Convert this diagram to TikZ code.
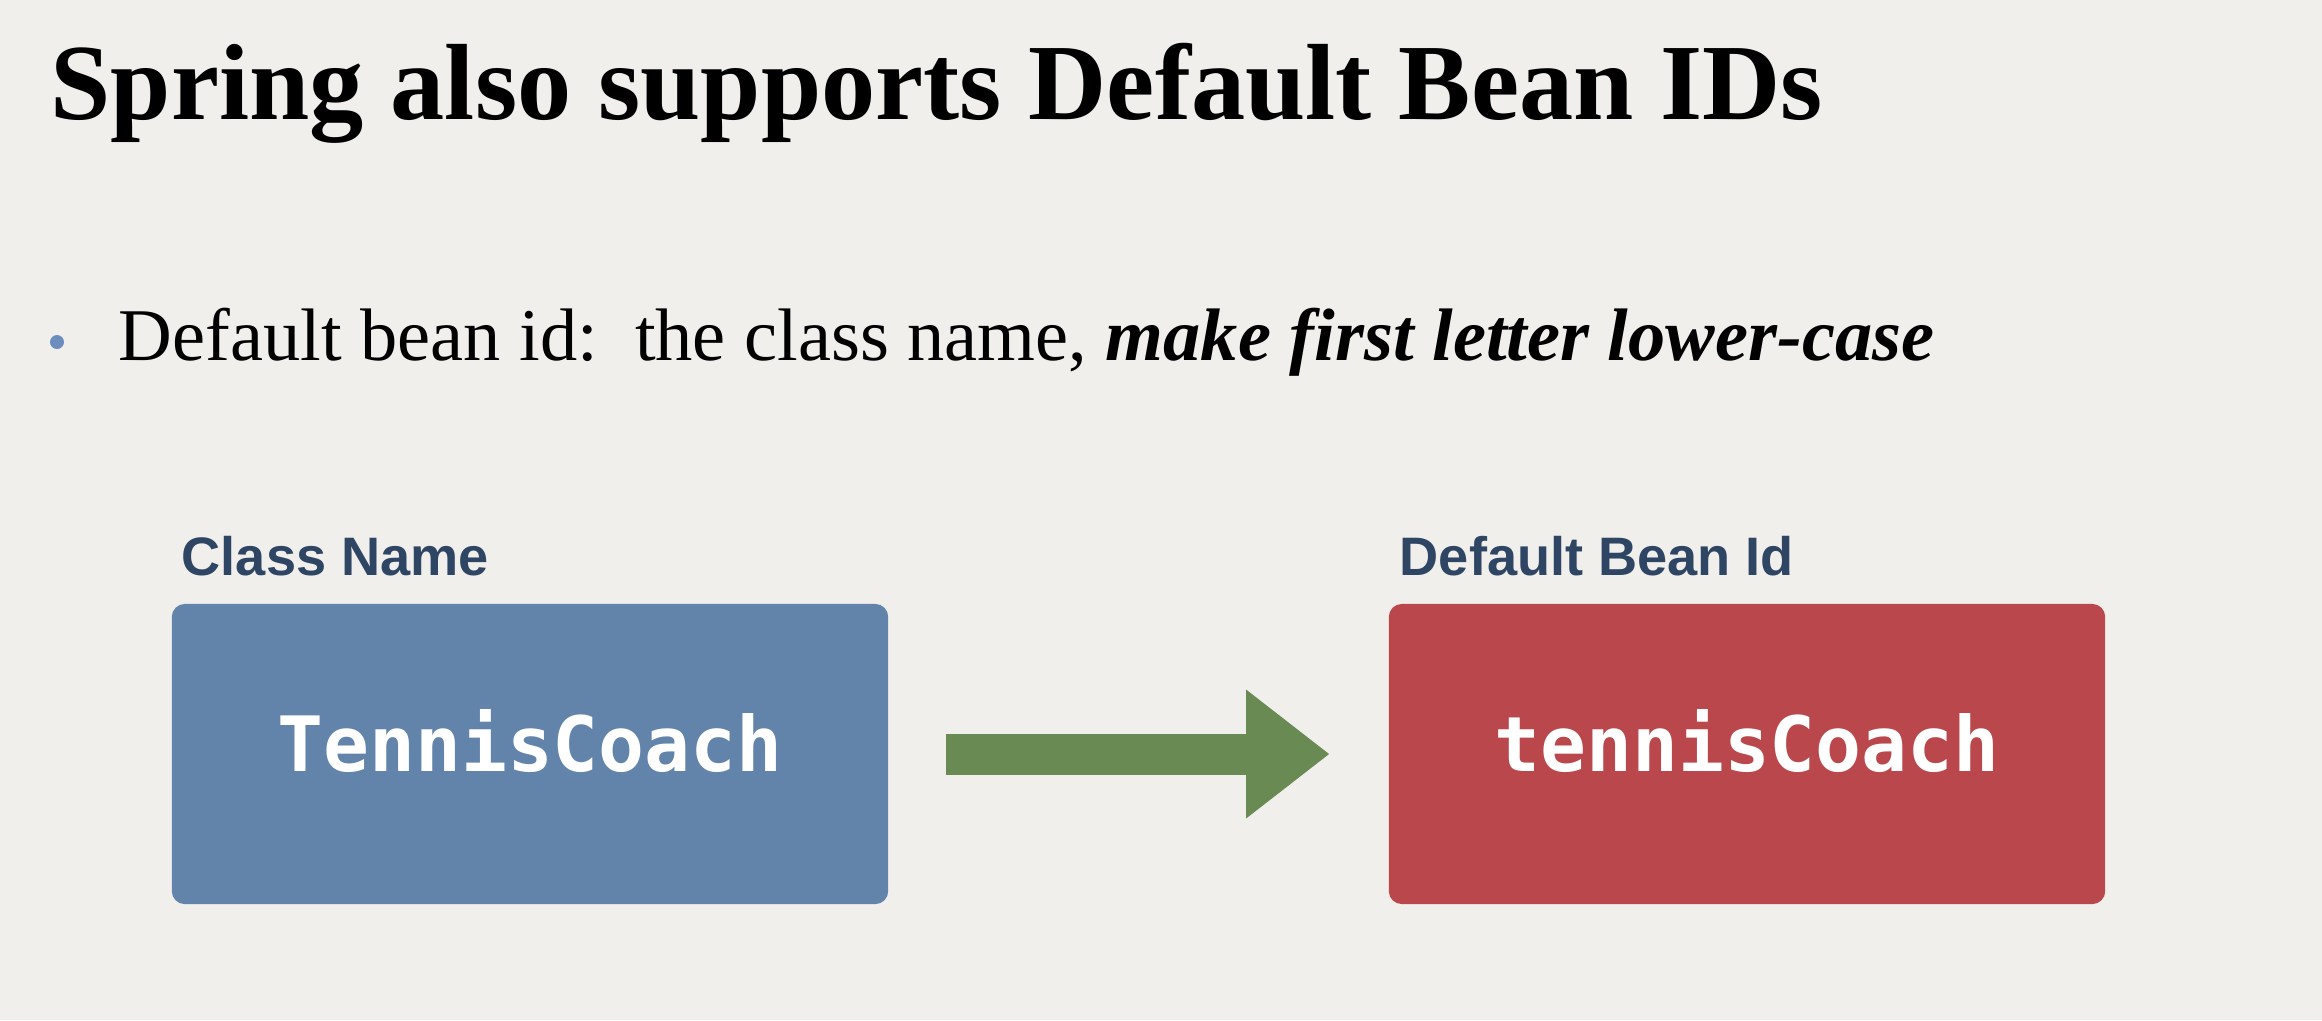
\documentclass[tikz,border=0pt]{standalone}
\usepackage{fontspec}
\setmainfont{Liberation Serif}
\newfontfamily\labelfont{Liberation Sans}
\newfontfamily\codefont{DejaVu Sans Mono}
\usetikzlibrary{positioning,arrows.meta}
\definecolor{paper}{RGB}{241,239,236}
\definecolor{classblue}{RGB}{98,131,170}
\definecolor{beanred}{RGB}{185,71,75}
\definecolor{arrowgreen}{RGB}{106,138,84}
\definecolor{labelnavy}{RGB}{46,69,99}
\definecolor{bulletblue}{RGB}{108,142,191}
\begin{document}
\begin{tikzpicture}[x=0.01cm, y=-0.01cm,
    namebox/.style={rectangle, rounded corners=0.13cm, minimum width=7.16cm, minimum height=3cm, inner sep=0pt, text=white, text depth=0.28cm, font=\codefont\bfseries\fontsize{21.7}{26}\selectfont},
    boxlabel/.style={inner sep=0pt, text=labelnavy, font=\labelfont\bfseries\fontsize{15.4}{18}\selectfont},
    bigarrow/.style={draw=arrowgreen, line width=0.41cm, shorten <=0.57cm, shorten >=0.59cm, -{Triangle[length=0.83cm, width=1.29cm, line width=0pt]}}]
    \fill[paper] (0,0) rectangle (2322,1020);
    \node[anchor=base west, inner sep=0pt, font=\bfseries\fontsize{30.8}{37}\selectfont] (title) at (50,119) {Spring also supports Default Bean IDs};
    \node[circle, fill=bulletblue, minimum size=0.14cm, inner sep=0pt] (dot) at (57,342) {};
    \node[anchor=base west, inner sep=0pt, font=\fontsize{21.15}{25}\selectfont] (point) at (118,360) {Default bean id:\ \ the class name, {\bfseries\itshape make first letter lower-case}};
    \node[namebox, fill=classblue] (blue) at (530,754) {TennisCoach};
    \node[namebox, fill=beanred] (red) at (1747,754) {tennisCoach};
    \node[boxlabel, above right=0.26cm and 0.1cm of blue.north west] (clsname) {Class Name};
    \node[boxlabel, above right=0.26cm and 0.11cm of red.north west] (beanid) {Default Bean Id};
    \draw[bigarrow] (blue) -- (red);
\end{tikzpicture}
\end{document}
